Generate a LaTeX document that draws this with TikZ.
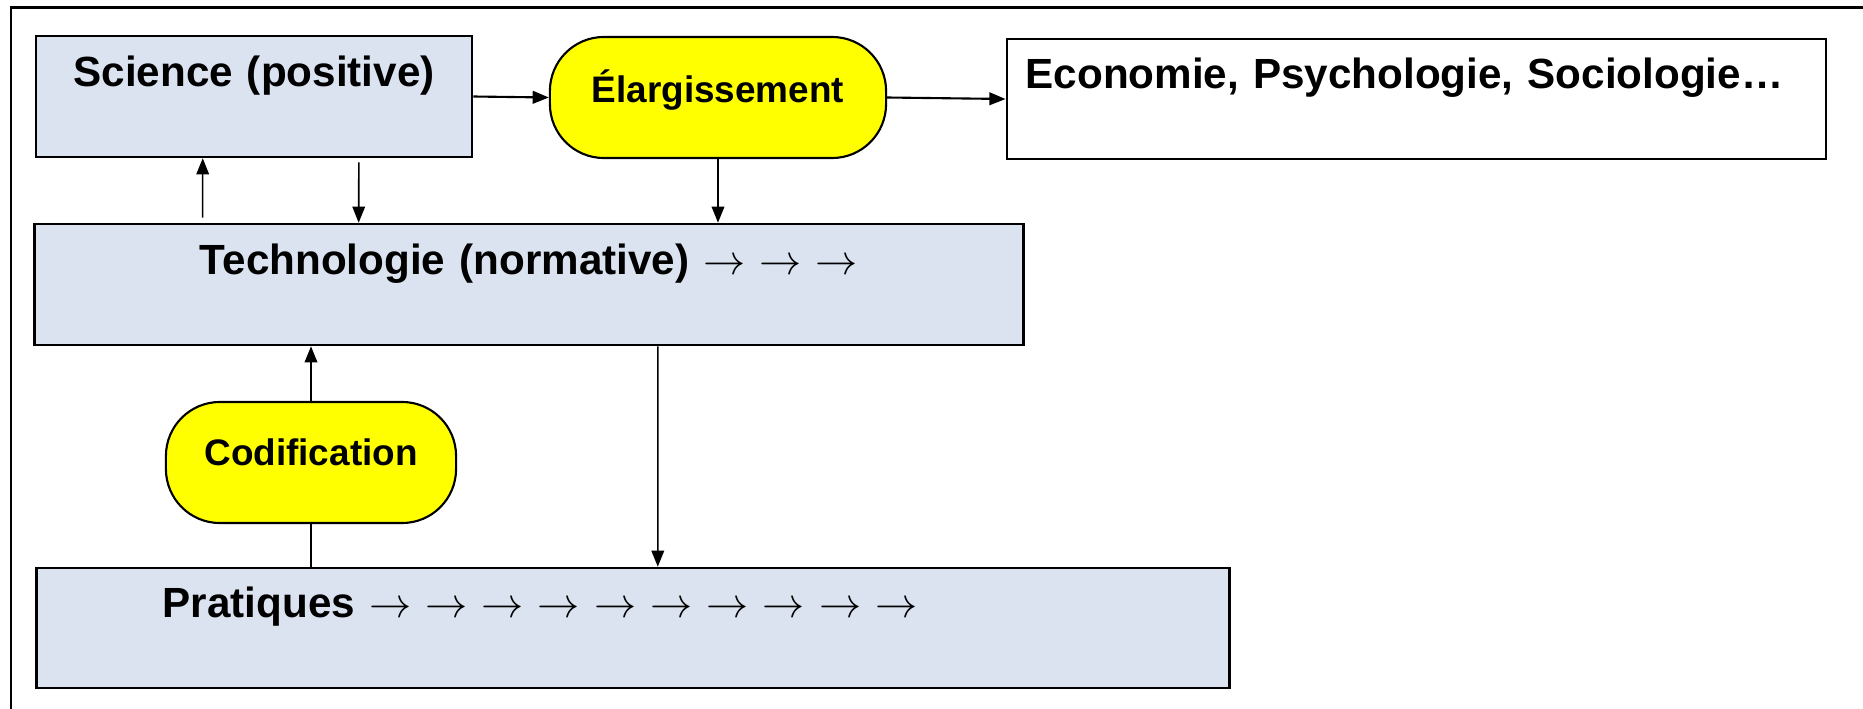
\documentclass[tikz,border=0pt]{standalone}
\usepackage{fontspec}
\setmainfont{Liberation Sans}
\usepackage{tikz}
\usetikzlibrary{arrows.meta}
\definecolor{BoxColor}{RGB}{219,227,240}
\definecolor{PillColor}{RGB}{255,255,0}
\tikzstyle{box} = [draw=black, line width=0.7pt, fill=BoxColor, inner xsep=0pt, inner ysep=0pt, font=\fontsize{12}{14}\selectfont\bfseries]
\tikzstyle{whitebox} = [box, fill=white]
\tikzstyle{pill} = [draw=black, line width=0.6pt, fill=PillColor, rounded corners=0.54cm, inner xsep=0pt, inner ysep=0pt, align=center, font=\fontsize{10.5}{12}\selectfont\bfseries]
\tikzstyle{arrow} = [line width=0.45pt, -{Triangle[length=4.6pt,width=3.6pt]}]
\tikzstyle{wide} = [line width=0.6pt, -{Triangle[length=4.6pt,width=3.6pt]}]
\tikzstyle{link} = [line width=0.45pt]

\begin{document}
\begin{tikzpicture}[x=0.01cm, y=-0.01cm]
            \useasboundingbox (0,0) rectangle (1863,709);
            \clip (0,0) rectangle (1863,709);
            % Frame
            \draw[line width=0.6pt] (11,730) -- (11,7.5) -- (1880,7.5);

            % Top row
            \node[box, text width=4.36cm, align=center, text height=0.51cm, text depth=0.70cm] (sci) at (254,96.5) {Science (positive)};
            \node[pill, text width=3.36cm, text height=0.65cm, text depth=0.56cm] (elarg) at (718,97.5) {Élargissement};
            \node[whitebox, inner xsep=0.19cm, text width=7.81cm, align=left, text height=0.50cm, text depth=0.70cm] (eco) at (1416.5,99) {Economie, Psychologie, Sociologie…};
            \draw[wide] (sci.east) -- (elarg.west);
            \draw[wide] (elarg.east) -- (eco.west);

            % Technologie
            \node[box, text width=9.88cm, align=center, text height=0.51cm, text depth=0.70cm] (tech) at (529,284.5) {Technologie (normative) $\rightarrow$ $\rightarrow$ $\rightarrow$};
            \draw[arrow] ([xshift=1.69cm, yshift=0.05cm]tech.north west) -- ([xshift=1.68cm]sci.south west);
            \draw[arrow] ([xshift=3.24cm, yshift=-0.04cm]sci.south west) -- ([xshift=3.25cm]tech.north west);
            \draw[arrow] (elarg.south) -- (elarg.south |- tech.north);

            % Codification
            \node[pill, text width=2.90cm, text height=0.63cm, text depth=0.58cm] (codif) at (311,462.5) {Codification};
            \draw[arrow] (codif.north) -- (codif.north |- tech.south);

            % Pratiques
            \node[box, inner xsep=1.26cm, text width=9.40cm, align=left, text height=0.50cm, text depth=0.70cm] (prat) at (633,628) {Pratiques $\rightarrow$ $\rightarrow$ $\rightarrow$ $\rightarrow$ $\rightarrow$ $\rightarrow$ $\rightarrow$ $\rightarrow$ $\rightarrow$ $\rightarrow$};
            \draw[link] (codif.south) -- (codif.south |- prat.north);
            \draw[arrow] ([xshift=6.24cm]tech.south west) -- ([xshift=6.22cm]prat.north west);
        \end{tikzpicture}
\end{document}
